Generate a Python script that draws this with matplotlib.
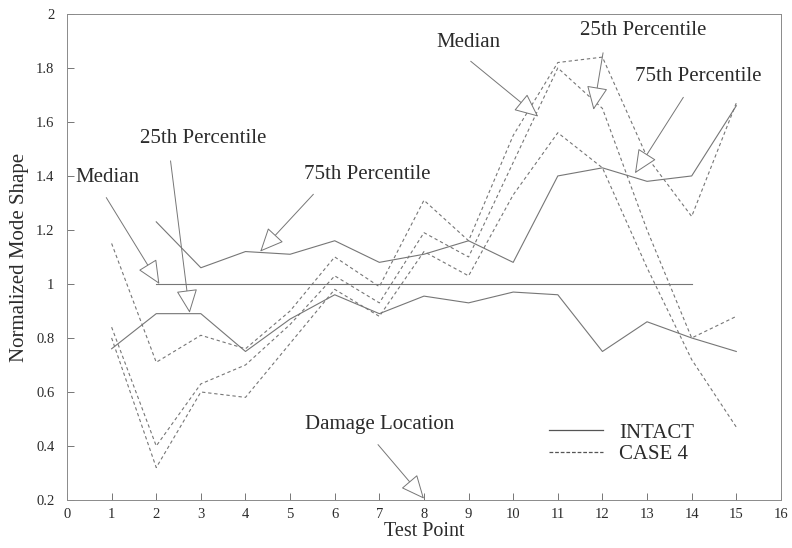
import numpy as np
import matplotlib
matplotlib.use('Agg')
import matplotlib.pyplot as plt
from matplotlib.lines import Line2D
from matplotlib.ticker import FormatStrFormatter

plt.rcParams['font.family'] = ['Liberation Serif', 'DejaVu Serif']

# test points
test_point = [1, 2, 3, 4, 5, 6, 7, 8, 9, 10, 11, 12, 13, 14, 15]

# INTACT (solid) - median, 25th and 75th percentiles
intact_median = [np.nan, 1.0, 1.0, 1.0, 1.0, 1.0, 1.0, 1.0, 1.0, 1.0, 1.0, 1.0, 1.0, 1.0, np.nan]
intact_p25 = [0.76, 0.89, 0.89, 0.75, 0.87, 0.96, 0.89, 0.955, 0.93, 0.97, 0.96, 0.75, 0.86, 0.80, 0.75]
intact_p75 = [np.nan, 1.23, 1.06, 1.12, 1.11, 1.16, 1.08, 1.11, 1.16, 1.08, 1.40, 1.43, 1.38, 1.40, 1.66]

# CASE 4 (dashed)
case4_p75 = [1.15, 0.71, 0.81, 0.76, 0.90, 1.10, 0.99, 1.31, 1.16, 1.55, 1.82, 1.84, 1.47, 1.25, 1.67]
case4_median = [0.84, 0.40, 0.63, 0.70, 0.85, 1.03, 0.93, 1.19, 1.10, 1.45, 1.80, 1.65, 1.20, 0.80, 0.88]
case4_p25 = [0.80, 0.32, 0.60, 0.58, 0.78, 0.98, 0.88, 1.12, 1.03, 1.33, 1.56, 1.43, 1.06, 0.72, 0.47]

# annotations: label, arrow tip, text centre, where the arrow leaves the text
notes = [
    ('Median', (2.07, 1.0), (0.90, 1.396), (0.38, 0.0)),
    ('25th Percentile', (2.75, 0.893), (3.05, 1.537), (0.23, 0.0)),
    ('75th Percentile', (4.33, 1.12), (6.72, 1.404), (0.15, 0.0)),
    ('Damage Location', (8.0, 0.205), (7.01, 0.478), (0.43, 0.0)),
    ('Median', (10.56, 1.62), (8.99, 1.893), (0.37, 0.0)),
    ('25th Percentile', (11.8, 1.645), (12.91, 1.937), (0.2, 0.0)),
    ('75th Percentile', (12.73, 1.41), (14.14, 1.767), (0.44, 0.0)),
]

line_col = '#767676'
text_col = '#2b2b2b'

fig = plt.figure(figsize=(7.92, 5.48), dpi=100)
ax = fig.add_axes([0.0846, 0.0876, 0.9014, 0.887])

for s in [intact_median, intact_p25, intact_p75]:
    ax.plot(test_point, s, '-', color=line_col, lw=0.8)
for s in [case4_p75, case4_median, case4_p25]:
    ax.plot(test_point, s, color=line_col, lw=0.8, linestyle=(0, (3, 2.5)))

for label, tip, txt, rel in notes:
    ax.annotate(label, xy=tip, xytext=txt, ha='center', va='center',
                fontsize=15, color=text_col,
                arrowprops=dict(arrowstyle='-|>,head_length=1.0,head_width=0.45',
                                fc='white', ec=line_col, lw=0.7,
                                relpos=rel, shrinkA=7, shrinkB=0))

ax.set_xlim(0, 16)
ax.set_ylim(0.2, 2)
ax.set_xticks(range(0, 17))
ax.set_yticks([0.2, 0.4, 0.6, 0.8, 1.0, 1.2, 1.4, 1.6, 1.8, 2.0])
ax.yaxis.set_major_formatter(FormatStrFormatter('%g'))
ax.tick_params(direction='in', length=5, width=0.7, color=line_col,
               labelsize=10.5, labelcolor=text_col)
ax.tick_params(axis='x', pad=6)
ax.tick_params(axis='y', pad=9)
for sp in ax.spines.values():
    sp.set_color('#8a8a8a')
    sp.set_linewidth(0.7)

ax.set_xlabel('Test Point', fontsize=14.5, color=text_col, labelpad=0.5)
ax.set_ylabel('Normalized Mode Shape', fontsize=15, color=text_col, labelpad=5)

handles = [Line2D([], [], color='#555555', lw=0.9),
           Line2D([], [], color='#555555', lw=0.9, linestyle=(0, (3, 1.5)))]
ax.legend(handles, ['INTACT', 'CASE 4'], loc='upper left', bbox_to_anchor=(0.66, 0.18),
          frameon=False, fontsize=15, handlelength=2.6, handletextpad=0.8,
          labelspacing=0.1, borderpad=0, labelcolor=text_col)

fig.savefig('out.png', dpi=100)
